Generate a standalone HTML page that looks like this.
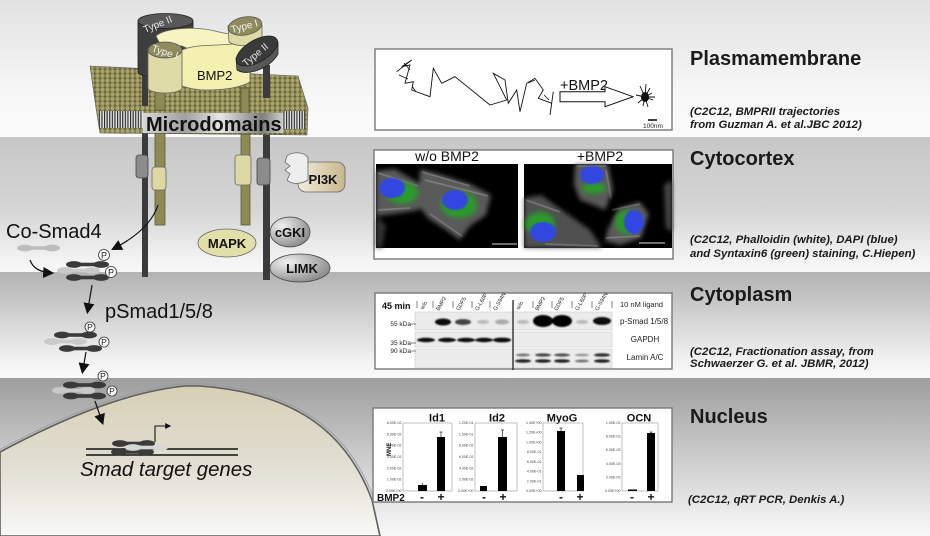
<!DOCTYPE html>
<html><head><meta charset="utf-8"><style>
html,body{margin:0;padding:0;width:930px;height:536px;overflow:hidden;background:#fff}
svg{display:block}
</style></head><body>
<svg width="930" height="536" viewBox="0 0 930 536" xmlns="http://www.w3.org/2000/svg" font-family="'Liberation Sans', Arial, sans-serif">
<defs>
 <linearGradient id="b1" x1="0" y1="0" x2="0" y2="1"><stop offset="0" stop-color="#e2e2e2"/><stop offset="0.7" stop-color="#f7f7f7"/><stop offset="1" stop-color="#fbfbfb"/></linearGradient>
 <linearGradient id="b2" x1="0" y1="0" x2="0" y2="1"><stop offset="0" stop-color="#c7c7c7"/><stop offset="0.55" stop-color="#d6d6d6"/><stop offset="0.95" stop-color="#f6f6f6"/><stop offset="1" stop-color="#f8f8f8"/></linearGradient>
 <linearGradient id="b3" x1="0" y1="0" x2="0" y2="1"><stop offset="0" stop-color="#b2b2b2"/><stop offset="0.85" stop-color="#f3f3f3"/><stop offset="1" stop-color="#fafafa"/></linearGradient>
 <linearGradient id="b4" x1="0" y1="0" x2="0" y2="1"><stop offset="0" stop-color="#9e9e9e"/><stop offset="0.9" stop-color="#f0f0f0"/><stop offset="1" stop-color="#f9f9f9"/></linearGradient>
 <linearGradient id="nuc" x1="0" y1="0" x2="0" y2="1"><stop offset="0" stop-color="#d7cfb6"/><stop offset="0.55" stop-color="#e2dfd4"/><stop offset="1" stop-color="#f8f8f6"/></linearGradient>
 <linearGradient id="metal" x1="0" y1="0" x2="1" y2="0"><stop offset="0" stop-color="#d6d6d6"/><stop offset="0.3" stop-color="#a0a0a0"/><stop offset="0.55" stop-color="#e6e6e6"/><stop offset="0.85" stop-color="#7e7e7e"/><stop offset="1" stop-color="#cfcfcf"/></linearGradient>
 <linearGradient id="tan" x1="0" y1="0" x2="1" y2="0"><stop offset="0" stop-color="#f3eddd"/><stop offset="1" stop-color="#c8b68d"/></linearGradient>
 <radialGradient id="grayel" cx="0.3" cy="0.3" r="0.9"><stop offset="0" stop-color="#f0f0f0"/><stop offset="1" stop-color="#7a7a7a"/></radialGradient>
 <pattern id="dots" width="5" height="4.6" patternUnits="userSpaceOnUse"><rect width="5" height="4.6" fill="#6c683c"/><circle cx="2.5" cy="2.3" r="2.15" fill="#a7a36b"/></pattern>
 <pattern id="tails" width="2.6" height="20" patternUnits="userSpaceOnUse"><rect width="2.6" height="20" fill="#e4e4e4"/><rect width="1.1" height="20" fill="#222"/></pattern>
 <marker id="ah" viewBox="0 0 10 10" refX="8" refY="5" markerWidth="12" markerHeight="11" markerUnits="userSpaceOnUse" orient="auto"><path d="M0,0 L10,5 L0,10 z" fill="#111"/></marker>
 <marker id="ahs" viewBox="0 0 10 10" refX="8" refY="5" markerWidth="7" markerHeight="6" markerUnits="userSpaceOnUse" orient="auto"><path d="M0,0 L10,5 L0,10 z" fill="#111"/></marker>
 <filter id="bl1" x="-20%" y="-50%" width="140%" height="200%"><feGaussianBlur stdDeviation="0.8"/></filter>
 <filter id="bl2" x="-30%" y="-30%" width="160%" height="160%"><feGaussianBlur stdDeviation="2.5"/></filter>
 <filter id="bl05"><feGaussianBlur stdDeviation="0.5"/></filter>
 <g id="dbD"><ellipse cx="7" cy="0" rx="8" ry="3.4"/><ellipse cx="34" cy="0" rx="8" ry="3.4"/><rect x="7" y="-1.8" width="27" height="3.6"/></g>
</defs>

<!-- background bands -->
<rect x="0" y="0" width="930" height="137" fill="url(#b1)"/>
<rect x="0" y="137" width="930" height="135" fill="url(#b2)"/>
<rect x="0" y="272" width="930" height="106" fill="url(#b3)"/>
<rect x="0" y="378" width="930" height="158" fill="url(#b4)"/>

<!-- nucleus -->
<path d="M0,452 C60,420 125,392 185,386 L200,386 C280,392 342,420 372,500 L380,536 L0,536 Z" fill="url(#nuc)" stroke="#5e5e5e" stroke-width="1.6"/>
<path d="M0,449.5 C60,417.5 125,389.5 185,383.5 L200,383.5 C281,389.5 344,418 374,499" fill="none" stroke="#9a9a9a" stroke-width="0.8"/>

<!-- stalks -->
<rect x="142" y="70" width="6" height="207" fill="#3b3b3b"/>
<rect x="155" y="88" width="10" height="137" fill="#8e8a55" stroke="#5d5a33" stroke-width="0.8"/>
<rect x="241" y="85" width="9" height="140" fill="#8e8a55" stroke="#5d5a33" stroke-width="0.8"/>
<rect x="263" y="65" width="7" height="215" fill="#3b3b3b"/>
<rect x="136" y="155" width="12" height="23" rx="3" fill="#8c8c8c" stroke="#444" stroke-width="0.8"/>
<rect x="152" y="167" width="14" height="23" rx="3" fill="#dcd9a3" stroke="#666" stroke-width="0.8"/>
<rect x="235" y="155" width="16" height="30" rx="3" fill="#dcd9a3" stroke="#666" stroke-width="0.8"/>
<rect x="257" y="158" width="13" height="27" rx="3" fill="#8c8c8c" stroke="#444" stroke-width="0.8"/>

<!-- membrane slab -->
<path d="M90,66 L298,76 L308,108 L307,135 L100,133 L96,108 Z" fill="url(#dots)" stroke="#555" stroke-width="0.6"/>
<rect x="99" y="111" width="44" height="17" fill="url(#tails)"/>
<rect x="283" y="111" width="22" height="18" fill="url(#tails)"/>
<rect x="142" y="70" width="6" height="36" fill="#3b3b3b"/>
<rect x="155" y="88" width="10" height="22" fill="#8e8a55" stroke="#5d5a33" stroke-width="0.8"/>
<rect x="263" y="66" width="7" height="32" fill="#3b3b3b"/>
<rect x="241" y="88" width="8" height="46" fill="#8e8a55" stroke="#5d5a33" stroke-width="0.8"/>
<rect x="143" y="113" width="140" height="20" fill="url(#metal)"/>
<text x="146" y="131" font-size="20" font-weight="bold" fill="#111">Microdomains</text>

<!-- receptors -->
<path d="M138,21 L138,72 A27.5,6 0 0 0 193,72 L193,21 Z" fill="#3e3e3e" stroke="#222" stroke-width="0.8"/>
<ellipse cx="165.5" cy="21" rx="27.5" ry="7.5" fill="#585858" stroke="#222" stroke-width="0.8"/>
<text x="145" y="33" font-size="10" fill="#e6e6e6" transform="rotate(-22 145 33)">Type II</text>
<path d="M156,36 C165,28 195,26 215,31 C230,35 245,36 258,38 L254,49 C240,48 225,47 212,50 C200,53 190,50 182,46 L160,44 Z" fill="#f7f4c2" stroke="#666" stroke-width="0.8"/>
<path d="M148,50 L148,88 A17,5 0 0 0 182,88 L182,50 Z" fill="#dedba6" stroke="#666" stroke-width="0.8"/>
<ellipse cx="165" cy="50" rx="17" ry="8" fill="#8f8b5c" stroke="#555" stroke-width="0.8"/>
<text x="151" y="51" font-size="10" fill="#f4f4f4" transform="rotate(18 151 51)">Type I</text>
<path d="M182,50 C195,44 215,46 232,44 L250,42 L250,82 C240,88 225,90 205,90 C195,90 188,88 182,86 Z" fill="#f3f0b0" stroke="#666" stroke-width="0.8"/>
<text x="197" y="80" font-size="13" fill="#111">BMP2</text>
<path d="M228,26 L229,42 C238,48 255,46 262,38 L262,25 Z" fill="#dedba6" stroke="#666" stroke-width="0.8"/>
<ellipse cx="245" cy="26" rx="17" ry="9" fill="#8f8b5c" stroke="#555" stroke-width="0.8" transform="rotate(-10 245 26)"/>
<text x="232" y="33" font-size="10" fill="#f4f4f4" transform="rotate(-15 232 33)">Type I</text>
<path d="M236,58 L237,70 C248,77 270,68 278,54 L278,42 Z" fill="#585858" stroke="#222" stroke-width="0.8"/>
<ellipse cx="257" cy="51" rx="23" ry="11" fill="#3a3a3a" stroke="#222" stroke-width="0.8" transform="rotate(-30 257 51)"/>
<text x="246" y="67" font-size="10" fill="#e6e6e6" transform="rotate(-40 246 67)">Type II</text>

<!-- kinases -->
<rect x="298" y="162" width="47" height="30" rx="8" fill="url(#tan)" stroke="#666" stroke-width="0.8"/>
<path d="M287,156 C293,151 305,152 308,158 L308,180 C300,185 291,184 287,180 L290,174 L285,170 L290,166 L285,162 Z" fill="#eeeeee" stroke="#666" stroke-width="0.8"/>
<text x="323" y="184" font-size="13" font-weight="bold" fill="#111" text-anchor="middle">PI3K</text>
<ellipse cx="227" cy="243" rx="29" ry="14" fill="#e2e0a9" stroke="#666" stroke-width="0.8"/>
<text x="227" y="248" font-size="13" font-weight="bold" fill="#111" text-anchor="middle">MAPK</text>
<ellipse cx="290" cy="232" rx="20" ry="15" fill="url(#grayel)" stroke="#444" stroke-width="0.8"/>
<text x="290" y="237" font-size="13" font-weight="bold" fill="#111" text-anchor="middle">cGKI</text>
<ellipse cx="300" cy="268" rx="30" ry="14" fill="url(#grayel)" stroke="#444" stroke-width="0.8"/>
<text x="302" y="273" font-size="13" font-weight="bold" fill="#111" text-anchor="middle">LIMK</text>

<!-- Smad pathway -->
<text x="6" y="238" font-size="20" fill="#111">Co-Smad4</text>
<use href="#dbD" transform="translate(18,248)" fill="#bdbdbd"/>
<path d="M30,260 Q34,272 52,273" fill="none" stroke="#111" stroke-width="1.2" marker-end="url(#ah)"/>
<path d="M158,205 Q150,230 113,249" fill="none" stroke="#111" stroke-width="1.2" marker-end="url(#ah)"/>

<use href="#dbD" transform="translate(58,270.5)" fill="#c9c9c9"/>
<use href="#dbD" transform="translate(67,264.5)" fill="#3a3a3a"/>
<use href="#dbD" transform="translate(67,277.5)" fill="#3a3a3a"/>
<circle cx="104" cy="255" r="5.5" fill="#fff" stroke="#333" stroke-width="0.8"/><text x="104" y="258.5" font-size="9" text-anchor="middle" fill="#222">P</text>
<circle cx="111" cy="272" r="5.5" fill="#fff" stroke="#333" stroke-width="0.8"/><text x="111" y="275.5" font-size="9" text-anchor="middle" fill="#222">P</text>
<path d="M92,285 L87.5,312" stroke="#111" stroke-width="1.2" marker-end="url(#ah)"/>

<text x="105" y="318" font-size="20" fill="#111">pSmad1/5/8</text>
<use href="#dbD" transform="translate(45,341.5)" fill="#c9c9c9"/>
<use href="#dbD" transform="translate(55,335)" fill="#3a3a3a"/>
<use href="#dbD" transform="translate(60,348.5)" fill="#3a3a3a"/>
<circle cx="90" cy="327" r="5" fill="#fff" stroke="#333" stroke-width="0.8"/><text x="90" y="330.2" font-size="8.5" text-anchor="middle" fill="#222">P</text>
<circle cx="104" cy="342" r="5" fill="#fff" stroke="#333" stroke-width="0.8"/><text x="104" y="345.2" font-size="8.5" text-anchor="middle" fill="#222">P</text>
<path d="M86,352 L82.5,372" stroke="#111" stroke-width="1.2" marker-end="url(#ah)"/>

<use href="#dbD" transform="translate(53,390.5)" fill="#c9c9c9"/>
<use href="#dbD" transform="translate(64,385)" fill="#3a3a3a"/>
<use href="#dbD" transform="translate(64,396)" fill="#3a3a3a"/>
<circle cx="103" cy="376" r="5" fill="#fff" stroke="#333" stroke-width="0.8"/><text x="103" y="379.2" font-size="8.5" text-anchor="middle" fill="#222">P</text>
<circle cx="112" cy="391" r="5" fill="#fff" stroke="#333" stroke-width="0.8"/><text x="112" y="394.2" font-size="8.5" text-anchor="middle" fill="#222">P</text>
<path d="M95,401 L102.5,423" stroke="#111" stroke-width="1.2" marker-end="url(#ah)"/>

<line x1="86" y1="449" x2="238" y2="449" stroke="#111" stroke-width="1.6"/>
<line x1="86" y1="455" x2="238" y2="455" stroke="#111" stroke-width="1.6"/>
<use href="#dbD" transform="translate(113,443.5)" fill="#3a3a3a"/>
<use href="#dbD" transform="translate(112,452)" fill="#3a3a3a"/>
<use href="#dbD" transform="translate(126,447.5)" fill="#d6d6d6"/>
<path d="M155,442 L155,426 L170,426" fill="none" stroke="#111" stroke-width="1.1" marker-end="url(#ahs)"/>
<text x="80" y="476" font-size="20.4" font-style="italic" fill="#111">Smad target genes</text>

<!-- Panel 1 -->
<rect x="375" y="49" width="297" height="81" fill="#fff" stroke="#777" stroke-width="1.4"/>
<polyline points="396.7,71.7 411.7,60 401.7,66.7 410,65 405,83.3 413.3,81.7 411.7,90 430,96.7 433.3,68.3 441.7,83.3 455,76.7 490,105 506.7,100 493.3,73.3 505,80 508.3,103.3 516.7,90 520,111.7 526.7,83.3 535,78.3 543.3,90 538.3,98.3 551.7,103.3 550,115 553.3,91.7" fill="none" stroke="#111" stroke-width="0.9"/>
<path d="M404,63 L410,70 M399,75 L408,79 M412,86 L416,92 M528,83 L535,80 M544,95 L549,100" stroke="#111" stroke-width="0.8"/>
<text x="560" y="90" font-size="14.5" fill="#111">+BMP2</text>
<path d="M560,91.7 L605,91.7 L605,86.7 L633,96.7 L605,106.7 L605,101.7 L560,101.7 Z" fill="#fff" stroke="#111" stroke-width="1"/>
<g stroke="#111" stroke-width="0.9">
<path d="M645,97 L640,86 M645,97 L650,88 M645,97 L653,100 M645,97 L648,107 M645,97 L638,103 M645,97 L636,95 M645,97 L652,93 M645,97 L643,106 M645,97 L646,84 M645,97 L655,97"/>
</g>
<ellipse cx="645" cy="97" rx="4" ry="5" fill="#111"/>
<line x1="648" y1="120" x2="657" y2="120" stroke="#111" stroke-width="1.6"/>
<text x="643" y="128" font-size="6.5" fill="#222">100nm</text>

<!-- Panel 2 -->
<rect x="374" y="150" width="299" height="109" fill="#fff" stroke="#777" stroke-width="1.4"/>
<text x="447" y="161" font-size="14" fill="#111" text-anchor="middle">w/o BMP2</text>
<text x="600" y="161" font-size="14" fill="#111" text-anchor="middle">+BMP2</text>
<rect x="376" y="164" width="142" height="84" fill="#000"/>
<rect x="524" y="164" width="148" height="84" fill="#000"/>
<g filter="url(#bl2)" opacity="0.85">
 <path d="M376,171 L395,169 L420,184 L432,198 L418,210 L400,213 L376,216 Z" fill="#6a6a6a"/>
 <path d="M376,216 L386,225 L382,248 L376,248 Z" fill="#3a3a3a"/>
 <path d="M420,169 L442,175 L470,184 L491,195 L486,215 L470,226 L460,240 L445,229 L428,218 L418,205 Z" fill="#6a6a6a"/>
 <path d="M575,164 L608,164 L613,190 L605,210 L594,205 L580,200 L574,185 Z" fill="#6a6a6a"/>
 <path d="M524,198 L541,195 L562,210 L590,230 L602,248 L524,248 Z" fill="#5e5e5e"/>
 <path d="M608,229 L619,208 L640,202 L649,214 L641,238 L620,245 L605,241 Z" fill="#6a6a6a"/>
 <path d="M664,185 L672,180 L672,232 L666,228 Z" fill="#555"/>
</g>
<g stroke="#cfcfcf" stroke-width="0.7" opacity="0.7" filter="url(#bl05)">
 <path d="M422,172 L470,186 M425,180 L488,196 M430,214 L462,236 M378,173 L418,186 M378,210 L410,208 M577,166 L606,166 M606,170 L611,198 M526,200 L560,212 M545,244 L598,246 M612,210 L640,204 M606,238 L640,236"/>
</g>
<g filter="url(#bl2)">
 <ellipse cx="402" cy="193" rx="16" ry="11" fill="#2a9a2a"/>
 <ellipse cx="459" cy="205" rx="18" ry="13" fill="#2a9a2a"/>
 <ellipse cx="594" cy="188" rx="12" ry="6" fill="#2a9a2a"/>
 <ellipse cx="540" cy="224" rx="15" ry="12" fill="#2a9a2a"/>
 <ellipse cx="627" cy="222" rx="12" ry="12" fill="#2a9a2a"/>
</g>
<g filter="url(#bl1)">
 <ellipse cx="392" cy="188" rx="13" ry="10" fill="#3047e0"/>
 <ellipse cx="455" cy="200" rx="13" ry="10" fill="#3047e0"/>
 <ellipse cx="592" cy="175" rx="12" ry="9" fill="#3047e0"/>
 <ellipse cx="543" cy="232" rx="13" ry="10" fill="#3047e0"/>
 <ellipse cx="634" cy="222" rx="10" ry="12" fill="#3047e0"/>
</g>
<line x1="492" y1="244" x2="517" y2="244" stroke="#ddd" stroke-width="1"/>
<line x1="639" y1="243" x2="665" y2="243" stroke="#ddd" stroke-width="1"/>

<!-- Panel 3 -->
<rect x="375" y="293" width="297" height="76" fill="#fff" stroke="#777" stroke-width="1.4"/>
<text x="382" y="309" font-size="9" font-weight="bold" fill="#111">45 min</text>
<g stroke="#333" stroke-width="0.6">
<line x1="417" y1="301" x2="417" y2="308"/><line x1="433" y1="301" x2="433" y2="308"/><line x1="453" y1="301" x2="453" y2="308"/><line x1="472" y1="301" x2="472" y2="308"/><line x1="490" y1="301" x2="490" y2="308"/><line x1="533" y1="301" x2="533" y2="308"/><line x1="552" y1="301" x2="552" y2="308"/><line x1="572" y1="301" x2="572" y2="308"/><line x1="592" y1="301" x2="592" y2="308"/><line x1="612" y1="301" x2="612" y2="308"/>
</g>
<g font-size="5.5" fill="#222">
<text transform="translate(423,310) rotate(-60)">w/o</text>
<text transform="translate(439,311) rotate(-60)">BMP2</text>
<text transform="translate(459,311) rotate(-60)">GDF5</text>
<text transform="translate(478,311) rotate(-60)">G-L60P</text>
<text transform="translate(496,311) rotate(-60)">G-S94N</text>
<text transform="translate(519,310) rotate(-60)">w/o</text>
<text transform="translate(538,311) rotate(-60)">BMP2</text>
<text transform="translate(557,311) rotate(-60)">GDF5</text>
<text transform="translate(578,311) rotate(-60)">G-L60P</text>
<text transform="translate(598,311) rotate(-60)">G-S94N</text>
</g>
<text x="620" y="307" font-size="7.5" fill="#222">10 nM ligand</text>
<rect x="415" y="312" width="197" height="18" fill="#ebebeb" stroke="#c4c4c4" stroke-width="0.5"/>
<rect x="415" y="332" width="197" height="15" fill="#ececec" stroke="#c4c4c4" stroke-width="0.5"/>
<rect x="415" y="349" width="197" height="19" fill="#ececec" stroke="#c4c4c4" stroke-width="0.5"/>
<g filter="url(#bl1)">
<ellipse cx="443" cy="322" rx="8" ry="3.5" fill="#111"/>
<ellipse cx="463" cy="322" rx="8" ry="3" fill="#444"/>
<ellipse cx="483" cy="322" rx="6" ry="2" fill="#bbb"/>
<ellipse cx="502" cy="322" rx="7" ry="2.5" fill="#aaa"/>
<ellipse cx="523" cy="322" rx="6" ry="2" fill="#bbb"/>
<ellipse cx="543" cy="321" rx="10" ry="6" fill="#000"/>
<ellipse cx="562" cy="321" rx="10" ry="6" fill="#000"/>
<ellipse cx="582" cy="322" rx="6" ry="2" fill="#bbb"/>
<ellipse cx="602" cy="321" rx="9" ry="4" fill="#111"/>
<ellipse cx="426" cy="340" rx="9" ry="2.2" fill="#111"/>
<ellipse cx="447" cy="340" rx="9" ry="2.2" fill="#111"/>
<ellipse cx="466" cy="340" rx="9" ry="2.2" fill="#111"/>
<ellipse cx="484" cy="340" rx="9" ry="2.2" fill="#111"/>
<ellipse cx="502" cy="340" rx="9" ry="2.4" fill="#111"/>
<ellipse cx="523" cy="355" rx="7" ry="1.5" fill="#777"/>
<ellipse cx="543" cy="355" rx="8" ry="1.6" fill="#444"/>
<ellipse cx="562" cy="355" rx="8" ry="1.6" fill="#555"/>
<ellipse cx="582" cy="355" rx="7" ry="1.4" fill="#999"/>
<ellipse cx="602" cy="355" rx="8" ry="1.8" fill="#333"/>
<ellipse cx="523" cy="361" rx="8" ry="1.8" fill="#222"/>
<ellipse cx="543" cy="361" rx="8" ry="1.8" fill="#222"/>
<ellipse cx="562" cy="361" rx="8" ry="1.8" fill="#222"/>
<ellipse cx="582" cy="361" rx="7" ry="1.5" fill="#777"/>
<ellipse cx="602" cy="361" rx="8" ry="1.8" fill="#222"/>
</g>
<line x1="513" y1="300" x2="513" y2="370" stroke="#111" stroke-width="1.2"/>
<g font-size="6.5" fill="#222" text-anchor="end">
<text x="411" y="326">55 kDa</text><text x="411" y="345">35 kDa</text><text x="411" y="353">90 kDa</text>
</g>
<g stroke="#333" stroke-width="0.6"><line x1="411" y1="324" x2="416" y2="324"/><line x1="411" y1="343" x2="416" y2="343"/><line x1="411" y1="351" x2="416" y2="351"/></g>
<text x="620" y="324" font-size="8" fill="#222">p-Smad 1/5/8</text>
<text x="645" y="342" font-size="8" fill="#222" text-anchor="middle">GAPDH</text>
<text x="645" y="360" font-size="8" fill="#222" text-anchor="middle">Lamin A/C</text>

<!-- Panel 4 -->
<rect x="373" y="408" width="299" height="94" fill="#fff" stroke="#777" stroke-width="1.4"/>
<g font-size="11" font-weight="bold" fill="#111" text-anchor="middle">
<text x="437" y="421.5">Id1</text><text x="497" y="421.5">Id2</text><text x="562" y="421.5">MyoG</text><text x="639" y="421.5">OCN</text>
</g>
<g fill="none" stroke="#999" stroke-width="0.6">
<rect x="403" y="423" width="49" height="68"/><rect x="475" y="423" width="42" height="68"/><rect x="543" y="423" width="40" height="68"/><rect x="622" y="423" width="36" height="68"/>
</g>
<g font-size="3.6" fill="#444" text-anchor="end">
<text x="401.5" y="492">0.00E+00</text><text x="401.5" y="480.7">1.00E-02</text><text x="401.5" y="469.3">2.00E-02</text><text x="401.5" y="458">3.00E-02</text><text x="401.5" y="446.7">4.00E-02</text><text x="401.5" y="435.3">5.00E-02</text><text x="401.5" y="424">6.00E-02</text>
<text x="473.5" y="492">0.00E+00</text><text x="473.5" y="480.7">2.00E-02</text><text x="473.5" y="469.3">4.00E-02</text><text x="473.5" y="458">6.00E-02</text><text x="473.5" y="446.7">8.00E-02</text><text x="473.5" y="435.3">1.00E-01</text><text x="473.5" y="424">1.20E-01</text>
<text x="541.5" y="492">0.00E+00</text><text x="541.5" y="482.3">2.00E-01</text><text x="541.5" y="472.6">4.00E-01</text><text x="541.5" y="462.9">6.00E-01</text><text x="541.5" y="453.1">8.00E-01</text><text x="541.5" y="443.4">1.00E+00</text><text x="541.5" y="433.7">1.20E+00</text><text x="541.5" y="424">1.40E+00</text>
<text x="620.5" y="492">0.00E+00</text><text x="620.5" y="478.4">2.00E-03</text><text x="620.5" y="464.8">4.00E-03</text><text x="620.5" y="451.2">6.00E-03</text><text x="620.5" y="437.6">8.00E-03</text><text x="620.5" y="424">1.00E-02</text>
</g>
<text transform="translate(391,456) rotate(-90)" font-size="6" font-weight="bold" fill="#222">MNE</text>
<g fill="#000">
<rect x="418" y="485" width="9" height="6"/><rect x="437" y="437" width="8" height="54"/>
<rect x="480" y="486" width="7" height="5"/><rect x="498" y="437" width="9" height="54"/>
<rect x="557" y="431" width="8" height="60"/><rect x="577" y="475" width="7" height="16"/>
<rect x="628" y="489.5" width="9" height="1.5"/><rect x="647" y="433" width="8" height="58"/>
</g>
<g stroke="#000" stroke-width="0.6">
<line x1="441" y1="432" x2="441" y2="437"/><line x1="439.5" y1="432" x2="442.5" y2="432"/>
<line x1="422.5" y1="483" x2="422.5" y2="485"/>
<line x1="502.5" y1="430" x2="502.5" y2="437"/><line x1="501" y1="430" x2="504" y2="430"/>
<line x1="561" y1="428" x2="561" y2="431"/><line x1="559.5" y1="428" x2="562.5" y2="428"/>
<line x1="651" y1="432" x2="651" y2="433"/><line x1="649.5" y1="432" x2="652.5" y2="432"/>
</g>
<text x="377" y="501" font-size="10" font-weight="bold" fill="#111">BMP2</text>
<g font-size="12" font-weight="bold" fill="#111" text-anchor="middle">
<text x="422" y="501">-</text><text x="441" y="501">+</text>
<text x="484" y="501">-</text><text x="503" y="501">+</text>
<text x="561" y="501">-</text><text x="580" y="501">+</text>
<text x="632" y="501">-</text><text x="651" y="501">+</text>
</g>

<!-- right labels -->
<g font-size="20" font-weight="bold" fill="#1a1a1a">
<text x="690" y="65">Plasmamembrane</text>
<text x="690" y="165">Cytocortex</text>
<text x="690" y="301">Cytoplasm</text>
<text x="690" y="423">Nucleus</text>
</g>
<g font-size="11.4" font-weight="bold" font-style="italic" fill="#1a1a1a">
<text x="690" y="115">(C2C12, BMPRII trajectories</text>
<text x="690" y="128">from Guzman A. et al.JBC 2012)</text>
<text x="690" y="243">(C2C12, Phalloidin (white), DAPI (blue)</text>
<text x="690" y="257">and Syntaxin6 (green) staining, C.Hiepen)</text>
<text x="690" y="355">(C2C12, Fractionation assay, from</text>
<text x="690" y="367">Schwaerzer G. et al. JBMR, 2012)</text>
<text x="688" y="503">(C2C12, qRT PCR, Denkis A.)</text>
</g>
</svg>
</body></html>
